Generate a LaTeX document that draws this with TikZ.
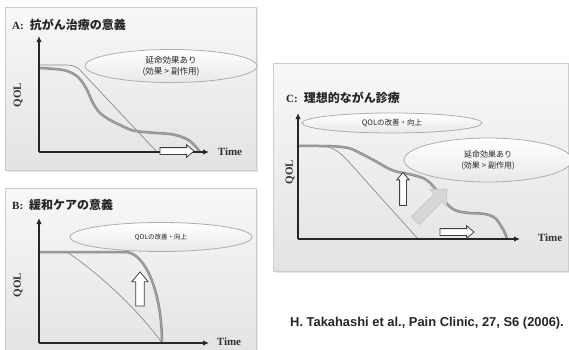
\documentclass[tikz,border=0pt]{standalone}
\usepackage{fontspec}
\setmainfont{Liberation Serif}
\newfontfamily\jpfont{Noto Sans CJK JP}
\newfontfamily\reffont{Liberation Sans}
\usetikzlibrary{shapes.geometric,shapes.arrows,arrows.meta}
\begin{document}
\begin{tikzpicture}[x=1pt,y=-1pt,
  panel/.style={draw=black!20, line width=0.8pt, top color=black!3, bottom color=black!11},
  shadowbox/.style={fill=black!10, draw=none},
  axis/.style={draw=black!85, line width=1.3pt, -{Latex[length=6pt,width=5.5pt]}},
  bubble/.style={ellipse, draw=black!32, line width=0.8pt, top color=white, bottom color=black!9, inner sep=0pt, text=black!85, align=center},
  qout/.style={draw=black!48, line width=2.5pt, line cap=round, line join=round},
  qin/.style={draw=black!36, line width=1.2pt, line cap=round, line join=round},
  thinline/.style={draw=black!45, line width=0.7pt},
  barrow/.style={single arrow, draw=black!75, fill=white, line width=0.8pt, inner sep=3pt, single arrow head extend=2.8pt, single arrow tip angle=80},
  ttl/.style={anchor=west, text=black!85, inner sep=0pt},
  lbl/.style={font=\bfseries\fontsize{11}{13}\selectfont, text=black!80, inner sep=0pt}
]
\clip (0,0) rectangle (569,349);
\fill[white] (0,0) rectangle (569,349);

% ---------- panel A ----------
\fill[shadowbox] (7,9) rectangle (258,172);
\path[panel] (5,7) rectangle (256,170);
\node[ttl] (tA) at (12,25) {{\bfseries\fontsize{11}{13}\selectfont A:}\hspace{6pt}{\jpfont\bfseries\fontsize{12}{14}\selectfont 抗がん治療の意義}};
\node[bubble, minimum width=172pt, minimum height=33pt] (eA) at (171,66) {\jpfont\fontsize{8.5}{12}\selectfont 延命効果あり\\[-1pt]\jpfont\fontsize{8.5}{12}\selectfont (効果 > 副作用)};
\coordinate (oA) at (39,152);
\coordinate (yA) at (39,36);
\coordinate (xA) at (209,152);
\draw[thinline] (39,65) -- (66,65) .. controls (72,65) and (75,66) .. (79,69) -- (157,152);
\def\curveA{plot[smooth, tension=0.55] coordinates {(39,68) (55,69) (67,71) (78,77) (86,88) (93,103) (100,113) (110,120) (120,125) (133,130.5) (150,132.5) (170,134) (182,137) (190,141) (196,147) (200,152)}}
\draw[qout] \curveA;
\draw[qin] \curveA;
\draw[axis] (oA) -- (yA);
\draw[axis] (oA) -- (xA);
\node[lbl, rotate=90] (qA) at (18,95) {QOL};
\node[lbl] (tmA) at (230,152) {Time};
\node[barrow, minimum height=34pt] (rA) at (175,151) {};

% ---------- panel B ----------
\fill[shadowbox] (7,190) rectangle (258,360);
\path[panel] (5,188) rectangle (256,358);
\node[ttl] (tB) at (12,205) {{\bfseries\fontsize{11}{13}\selectfont B:}\hspace{6pt}{\jpfont\bfseries\fontsize{12}{14}\selectfont 緩和ケアの意義}};
\node[bubble, minimum width=182pt, minimum height=29pt] (eB) at (161,237) {\jpfont\fontsize{6.5}{8}\selectfont QOLの改善・向上};
\coordinate (oB) at (39,343);
\coordinate (yB) at (39,218);
\coordinate (xB) at (209,343);
\draw[thinline] (67,252) .. controls (100,274) and (140,312) .. (162,343);
\def\curveB{(39,252) -- (125,252) .. controls (145.4,252) and (162,292.8) .. (162,343)}
\draw[qout] \curveB;
\draw[qin] \curveB;
\draw[axis] (oB) -- (yB);
\draw[axis] (oB) -- (xB);
\node[lbl, rotate=90] (qB) at (18,285) {QOL};
\node[lbl] (tmB) at (229,342) {Time};
\node[barrow, minimum height=34pt, inner sep=3.8pt, single arrow head extend=4pt, shape border rotate=90] (uB) at (140,291.5) {};

% ---------- panel C ----------
\fill[shadowbox] (275,65) rectangle (571,273);
\path[panel] (273,63) rectangle (568,271);
\node[ttl] (tC) at (286,98) {{\bfseries\fontsize{11}{13}\selectfont C:}\hspace{6pt}{\jpfont\bfseries\fontsize{12}{14}\selectfont 理想的ながん診療}};
\coordinate (oC) at (298,239);
\coordinate (yC) at (298,113);
\coordinate (xC) at (520,239);
\draw[thinline] (298,146) -- (320,146) .. controls (332,146) and (340,152) .. (348,161) -- (418,239);
\def\curveC{plot[smooth, tension=0.55] coordinates {(298,146) (320,146) (337,146.5) (350,148.5) (362,154) (377,162) (393,170.5) (413,175) (425,179) (433,186) (441,196) (449,206) (457,211) (470,213) (485,214) (495,218) (501,226) (505,233) (507,239)}}
\draw[qout] \curveC;
\draw[qin] \curveC;
\node[bubble, minimum width=180pt, minimum height=20pt] (eC1) at (392,123) {\jpfont\fontsize{7.5}{9}\selectfont QOLの改善・向上};
\node[bubble, minimum width=168pt, minimum height=44pt] (eC2) at (488,160) {\jpfont\fontsize{8}{11}\selectfont 延命効果あり\\[-1pt]\jpfont\fontsize{8}{11}\selectfont (効果 > 副作用)};
\draw[axis] (oC) -- (yC);
\draw[axis] (oC) -- (xC);
\node[lbl, rotate=90] (qC) at (290,172) {QOL};
\node[lbl] (tmC) at (550,238) {Time};
\node[barrow, minimum height=33pt, shape border rotate=90] (uC) at (403,191) {};
\node[single arrow, fill=black!16, draw=black!22, line width=0.8pt, inner sep=5pt, single arrow head extend=6pt, single arrow tip angle=85, minimum height=45pt, rotate=45] (dC) at (429,207) {};
\node[barrow, minimum height=34pt] (rC) at (455,232) {};

% ---------- reference ----------
\node[text=black!85, inner sep=0pt] (cite) at (427,323) {\reffont\bfseries\fontsize{12.9}{14}\selectfont H. Takahashi et al., Pain Clinic, 27, S6 (2006).};
\end{tikzpicture}
\end{document}
